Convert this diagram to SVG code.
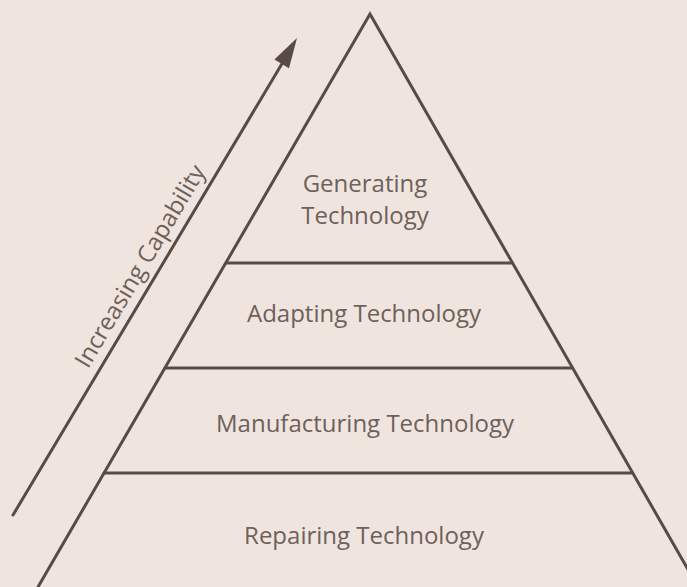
<svg xmlns="http://www.w3.org/2000/svg" width="687" height="587" viewBox="0 0 687 587">
  <defs>
    <style>
      .ln { stroke: #5a4a46; stroke-width: 3; fill: none; stroke-linecap: round; }
      .lbl { font-family: "Open Sans", "Noto Sans", "Liberation Sans", sans-serif; font-size: 24px; fill: #6e605b; text-anchor: middle; }
    </style>
  </defs>
  <rect width="687" height="587" fill="#f0e5de"/>
  <g id="pyramid">
    <polyline class="ln" points="38,587 370,14 698,587" stroke-linejoin="miter"/>
  </g>
  <g id="connectors">
    <line class="ln" x1="226" y1="263" x2="512" y2="263"/>
    <line class="ln" x1="165" y1="368" x2="572" y2="368"/>
    <line class="ln" x1="104" y1="473" x2="632" y2="473"/>
    <line class="ln" x1="13" y1="515" x2="283" y2="62" stroke-width="2.5"/>
    <polygon points="297,38 289,68.2 274.4,59.5" fill="#5a4a46"/>
  </g>
  <g id="arrow-label">
    <text class="lbl" style="text-anchor:start" transform="translate(88,369.5) rotate(-59.23)">Increasing Capability</text>
  </g>
  <g id="generating">
    <text class="lbl" x="365" y="192">Generating</text>
    <text class="lbl" x="365" y="224">Technology</text>
  </g>
  <g id="adapting">
    <text class="lbl" x="364" y="322">Adapting Technology</text>
  </g>
  <g id="manufacturing">
    <text class="lbl" x="365" y="432">Manufacturing Technology</text>
  </g>
  <g id="repairing">
    <text class="lbl" x="364" y="544">Repairing Technology</text>
  </g>
</svg>
